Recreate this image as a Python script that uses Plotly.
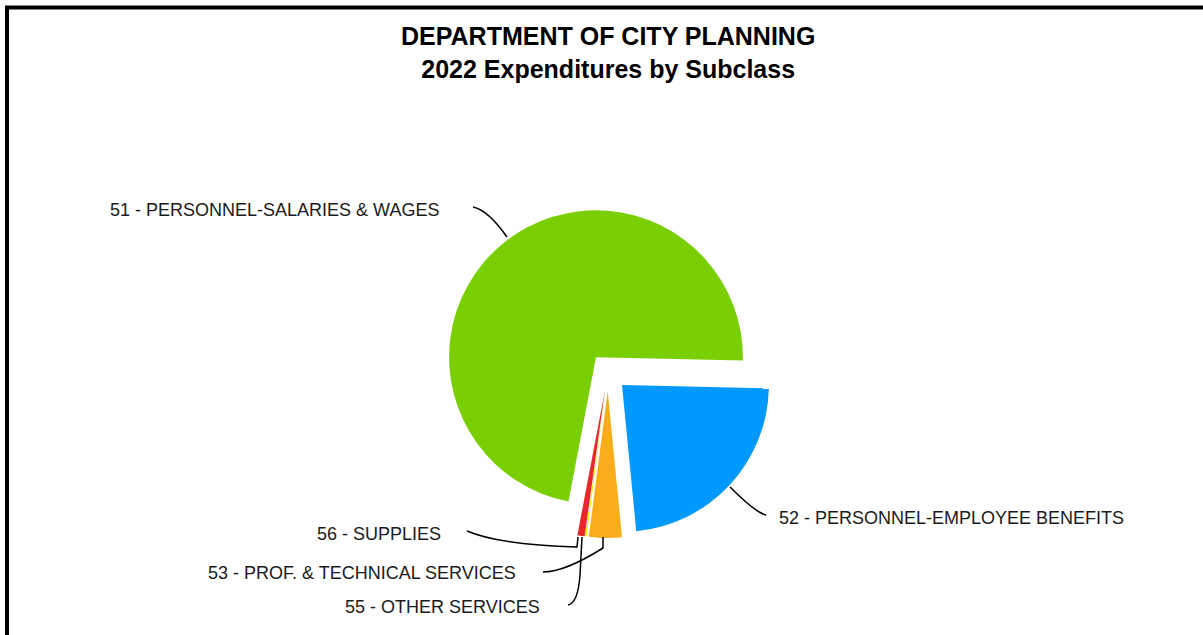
import plotly.graph_objects as go

# subclass shares of 2022 expenditures (percent)
subclasses = ["51 - PERSONNEL-SALARIES & WAGES", "52 - PERSONNEL-EMPLOYEE BENEFITS",
              "53 - PROF. & TECHNICAL SERVICES", "55 - OTHER SERVICES", "56 - SUPPLIES"]
shares = [72.4, 23.1, 3.6, 0.15, 0.8]
colors = ["#7acf04", "#0099ff", "#f9ad1b", "#fff200", "#e8272a"]
title_lines = ["DEPARTMENT OF CITY PLANNING", "2022 Expenditures by Subclass"]

W, H = 1203, 635

def px(x, y):
    return x / W, 1 - y / H

def path(*pts):
    # pts: ("M", x, y) / ("Q", cx, cy, x, y) / ("L", x, y) in pixels
    out = []
    for p in pts:
        nums = []
        for i in range(1, len(p), 2):
            a, b = px(p[i], p[i + 1])
            nums.append(f"{a:.5f},{b:.5f}")
        out.append(p[0] + " " + " ".join(nums))
    return " ".join(out)

fig = go.Figure()
fig.add_trace(go.Pie(
    labels=subclasses, values=shares, sort=False, direction="clockwise",
    rotation=190.8, pull=0.13, textinfo="none", hoverinfo="label+percent",
    marker=dict(colors=colors, line=dict(width=0)),
    domain=dict(x=[(608 - 166) / W, (608 + 166) / W], y=[(263 - 166) / H, (263 + 166) / H]),
    showlegend=False,
))

# leader lines (51, 52, 53, 55, 56)
leaders = [
    path(("M", 473, 207), ("Q", 488, 210, 507, 237)),
    path(("M", 730, 487), ("Q", 756, 513, 766, 515)),
    path(("M", 543, 572), ("Q", 565, 572, 603, 548), ("L", 603, 537)),
    path(("M", 568, 605), ("Q", 578, 603, 580, 575), ("L", 582, 537)),
    path(("M", 467, 531), ("Q", 500, 545, 577, 547), ("L", 578, 537)),
]
shapes = [dict(type="path", xref="paper", yref="paper", path=p,
               line=dict(color="black", width=1.5)) for p in leaders]
# outer frame
shapes.append(dict(type="rect", xref="paper", yref="paper",
                   x0=7 / W, y0=-0.1, x1=1.1, y1=1 - 7.5 / H,
                   line=dict(color="black", width=4)))

label_pos = [(441, 210, "right"), (777, 518, "left"), (518, 573, "right"),
             (542, 607, "right"), (443, 534, "right")]
annotations = []
for name, (x, y, side) in zip(subclasses, label_pos):
    ax, ay = px(x, y)
    annotations.append(dict(text=name, x=ax, y=ay, xref="paper", yref="paper",
                            xanchor=side, yanchor="middle", showarrow=False,
                            font=dict(family="Liberation Sans, Arial", size=18, color="#1a1a1a")))
tx, ty = px(608, 53)
annotations.append(dict(text="<b>" + "<br>".join(title_lines) + "</b>", x=tx, y=ty,
                        xref="paper", yref="paper", xanchor="center", yanchor="middle",
                        showarrow=False,
                        font=dict(family="Liberation Sans, Arial", size=25, color="black")))

fig.update_layout(
    width=W, height=H,
    margin=dict(l=0, r=0, t=0, b=0),
    paper_bgcolor="white", plot_bgcolor="white",
    shapes=shapes, annotations=annotations,
)
fig.write_html("out.html", config={"displayModeBar": False},
               post_script="document.body.style.margin='0px';")
